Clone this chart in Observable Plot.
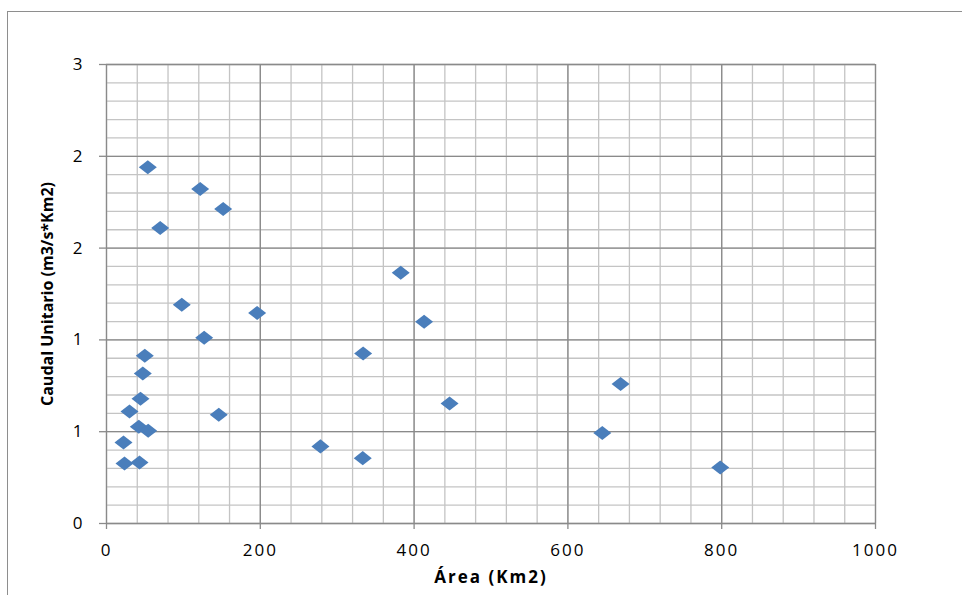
<!DOCTYPE html>
<html>
<head>
<meta charset="utf-8">
<script src="https://cdn.jsdelivr.net/npm/d3@7"></script>
<script src="https://cdn.jsdelivr.net/npm/@observablehq/plot@0.6"></script>
<style>
  html, body { margin: 0; padding: 0; background: #fff; overflow: hidden; width: 962px; height: 595px; }
  #chart { position: absolute; left: 0; top: 0; }
  #frame { position: absolute; left: 7px; top: 11px; width: 2000px; height: 2000px; border: 1px solid #8e8e8e; pointer-events: none; }
</style>
</head>
<body>
<div id="chart"></div>
<div id="frame"></div>
<script>
// Área de cuenca (km²) y caudal unitario de cada estación
const areas = [53.7, 121.8, 151.7, 69.8, 97.9, 195.9, 127.0, 382.6, 413.0, 333.7,
  49.8, 47.2, 44.2, 29.9, 146.0, 446.1, 668.5, 42.0, 54.2, 22.1,
  23.4, 42.9, 278.2, 333.2, 644.7, 798.1];
const caudales = [1.940, 1.822, 1.713, 1.610, 1.192, 1.147, 1.012, 1.366, 1.099, 0.926,
  0.914, 0.817, 0.680, 0.610, 0.592, 0.654, 0.760, 0.527, 0.505, 0.441,
  0.327, 0.332, 0.420, 0.356, 0.493, 0.305];

// Ejes: marcas principales y sus etiquetas (formato sin decimales)
const xTicks = [0, 200, 400, 600, 800, 1000];
const xTickLabels = ["0", "200", "400", "600", "800", "1000"];
const yTicks = [0, 0.5, 1, 1.5, 2, 2.5];
const yTickLabels = ["0", "1", "1", "2", "2", "3"];

// Cuadrícula secundaria
const xMinor = d3.range(0, 26).map(i => i * 40);
const yMinor = d3.range(0, 26).map(i => i / 10);

const points = areas.map((a, i) => ({area: a, caudal: caudales[i]}));

// Rombo algo más ancho que alto
const diamond = {
  draw(context, size) {
    const r = Math.sqrt(size / Math.PI);
    const hw = r, hh = r * 0.78;
    context.moveTo(0, -hh);
    context.lineTo(hw, 0);
    context.lineTo(0, hh);
    context.lineTo(-hw, 0);
    context.closePath();
  }
};

const gridMinor = "#c4c4c4";
const gridMajor = "#8a8a8a";

const chart = Plot.plot({
  width: 962,
  height: 595,
  marginLeft: 106,
  marginRight: 87,
  marginTop: 64,
  marginBottom: 72,
  style: {fontFamily: "'Open Sans', sans-serif", fontSize: "17px", color: "#000", background: "transparent"},
  x: {domain: [0, 1000]},
  y: {domain: [0, 2.5]},
  marks: [
    Plot.ruleX(xMinor, {stroke: gridMinor, strokeWidth: 1.3}),
    Plot.ruleY(yMinor, {stroke: gridMinor, strokeWidth: 1.3}),
    Plot.ruleX(xTicks, {stroke: gridMajor, strokeWidth: 1.3}),
    Plot.ruleY(yTicks, {stroke: gridMajor, strokeWidth: 1.3}),
    Plot.axisX({
      ticks: xTicks,
      tickFormat: d => xTickLabels[xTicks.indexOf(d)],
      tickSize: 6,
      tickPadding: 14,
      stroke: gridMajor,
      strokeWidth: 1.3,
      strokeOpacity: 1,
      fill: "#000",
      label: null
    }),
    Plot.axisY({
      ticks: yTicks,
      tickFormat: d => yTickLabels[yTicks.indexOf(d)],
      tickSize: 7,
      tickPadding: 17,
      stroke: gridMajor,
      strokeWidth: 1.3,
      strokeOpacity: 1,
      fill: "#000",
      label: null
    }),
    Plot.dot(points, {x: "area", y: "caudal", symbol: diamond, r: 9, fill: "#4a7ebb", stroke: "none"}),
    Plot.text(["Área (Km2)"], {
      frameAnchor: "bottom", dy: 54, lineAnchor: "middle", textAnchor: "middle",
      fontWeight: "bold", fontSize: 17, fill: "#000"
    }),
    Plot.text(["Caudal Unitario (m3/s*Km2)"], {
      frameAnchor: "left", dx: -59, rotate: -90, lineAnchor: "middle", textAnchor: "middle",
      fontWeight: "bold", fontSize: 16, fill: "#000"
    })
  ]
});

// Etiquetas horizontales algo más espaciadas
d3.select(chart).selectAll("g[aria-label='x-axis tick label'] text").style("letter-spacing", "2px");
d3.select(chart).selectAll("g[aria-label='text'] text").filter(function() { return this.textContent === "Área (Km2)"; }).style("letter-spacing", "2px");

document.getElementById("chart").append(chart);
</script>
</body>
</html>
